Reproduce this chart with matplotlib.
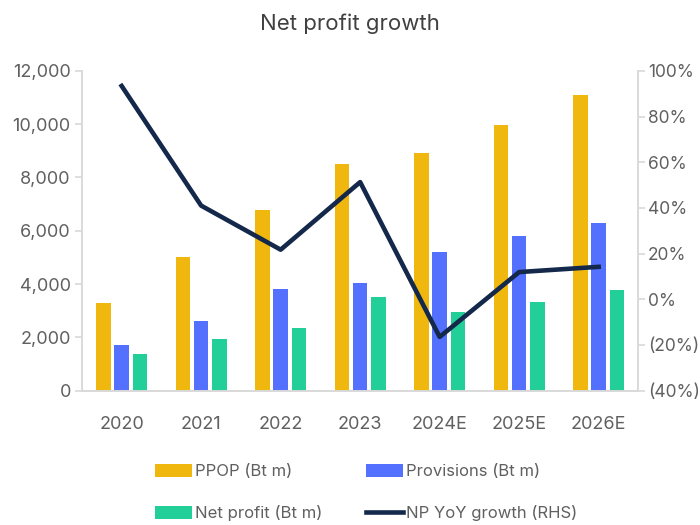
import numpy as np
import matplotlib.pyplot as plt
from matplotlib.ticker import FuncFormatter

plt.rcParams['font.family'] = ['Inter', 'DejaVu Sans']

years = ["2020", "2021", "2022", "2023", "2024E", "2025E", "2026E"]
ppop = [3300, 5030, 6780, 8500, 8900, 9970, 11090]
provisions = [1720, 2600, 3830, 4050, 5190, 5810, 6300]
net_profit = [1360, 1920, 2340, 3530, 2950, 3310, 3790]
np_growth = [93.4, 41.0, 21.7, 51.3, -16.5, 11.9, 14.2]

grey = "#606060"
spine_col = "#D9D9D9"

fig = plt.figure(figsize=(7, 5.25), dpi=100)
ax = fig.add_axes([0.117, 0.256, 0.795, 0.609])
ax2 = ax.twinx()

x = np.arange(len(years))
w = 0.18
step = 0.23
b1 = ax.bar(x - step, ppop, w, color="#F0B80F")
b2 = ax.bar(x, provisions, w, color="#5470FF")
b3 = ax.bar(x + step, net_profit, w, color="#22CF98")
l1, = ax2.plot(x, np_growth, color="#14284B", lw=3.3)

ax.set_xlim(-0.5, 6.5)
ax.set_ylim(0, 12000)
ax.set_yticks(range(0, 12001, 2000))
ax.yaxis.set_major_formatter(FuncFormatter(lambda v, p: f"{v:,.0f}"))
ax2.set_ylim(-40, 100)
ax2.set_yticks(range(-40, 101, 20))
ax2.yaxis.set_major_formatter(FuncFormatter(lambda v, p: f"({abs(v):.0f}%)" if v < 0 else f"{v:.0f}%"))
ax.set_xticks(x)
ax.set_xticklabels(years)

for a in (ax, ax2):
    a.spines["top"].set_visible(False)
    for s in ("left", "right", "bottom"):
        a.spines[s].set_color(spine_col)
        a.spines[s].set_linewidth(1.2)
    a.tick_params(colors=grey, labelsize=13, length=5, width=1.2)
    a.tick_params(axis="y", color=spine_col)
ax.tick_params(axis="x", length=0, pad=18)
ax.tick_params(axis="y", pad=3)
ax2.tick_params(axis="y", pad=2, labelsize=12.5)

fig.suptitle("Net profit growth", x=0.5, y=0.975, fontsize=16, color="#404040")

# matplotlib fills legend columns first, so order gives rows PPOP/Provisions, NP/growth
fig.legend([b1, b3, b2, l1],
           ["PPOP (Bt m)", "Net profit (Bt m)", "Provisions (Bt m)", "NP YoY growth (RHS)"],
           loc="lower left", bbox_to_anchor=(0.205, -0.015), ncol=2, frameon=False,
           fontsize=12, labelcolor=grey, handlelength=2.2, handleheight=0.78,
           handletextpad=0.2, columnspacing=2.6, labelspacing=1.55, borderpad=0.2)

fig.savefig("out.png", dpi=100)
